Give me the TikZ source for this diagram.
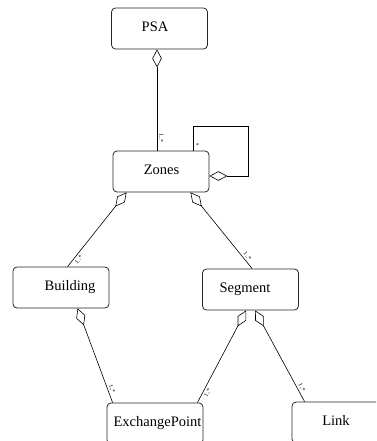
\documentclass[tikz,border=0pt]{standalone}
\usepackage{fontspec}
\setmainfont{Liberation Serif}
\usetikzlibrary{arrows.meta}
\begin{document}
\begin{tikzpicture}[x=1pt,y=-1pt,
  cls/.style={draw=black!85, line width=0.8pt, rounded corners=4pt,
    minimum width=96pt, minimum height=41pt, inner sep=0pt},
  every label/.style={font=\fontsize{14.5}{17}\selectfont,
    text height=0.66em, text depth=0pt, inner sep=0pt},
  agg/.style={draw, line width=0.6pt,
    {Diamond[open, length=18pt, width=9.5pt, line width=0.6pt]}-},
  mult/.style={font=\fontsize{6}{7}\selectfont, inner sep=2pt, sloped},
  multstar/.style={font=\fontsize{6}{7}\selectfont, inner sep=2.5pt}
]
\useasboundingbox (0,0) rectangle (376,441);
\clip (0,0) rectangle (376,441);

% classes
\node[cls, label={[xshift=-4.5pt]center:PSA}] (psa) at (159.5,28.5) {};
\node[cls, label={[xshift=0.5pt]center:Zones}] (zones) at (161,171.5) {};
\node[cls, label={[xshift=9pt]center:Building}] (building) at (61,287.5) {};
\node[cls, label={[xshift=-5.5pt]center:Segment}] (segment) at (250.5,289.5) {};
\node[cls, label={[xshift=2.5pt]center:ExchangePoint}] (xp) at (155,423.5) {};
\node[cls, label={[xshift=-4pt]center:Link}] (link) at (340,422.5) {};

% aggregations
\draw[agg] ([xshift=-2.5pt]psa.south) --
  node[mult, pos=0.88, above] {1..*} ([xshift=-4pt]zones.north);

\coordinate (loopc) at (248,126);
\draw[agg] ([yshift=-4.5pt]zones.east) -| (loopc) -|
  node[multstar, pos=0.9, right] {*} ([xshift=-16pt]zones.north east);

\draw[agg] ([xshift=14pt]zones.south west) --
  node[mult, pos=0.87, below] {1..*} ([xshift=55pt]building.north west);
\draw[agg] ([xshift=-19pt]zones.south east) --
  node[mult, pos=0.87, above] {1..*} ([xshift=50pt]segment.north west);

\draw[agg] ([xshift=65pt]building.south west) --
  node[mult, pos=0.87, above] {1..*} ([xshift=6pt]xp.north west);
\draw[agg] ([xshift=44pt]segment.south west) --
  node[mult, pos=0.87, below] {1..*} ([xshift=-6pt]xp.north east);
\draw[agg] ([xshift=53pt]segment.south west) --
  node[mult, pos=0.87, above] {1..*} ([xshift=13pt]link.north west);
\end{tikzpicture}
\end{document}
